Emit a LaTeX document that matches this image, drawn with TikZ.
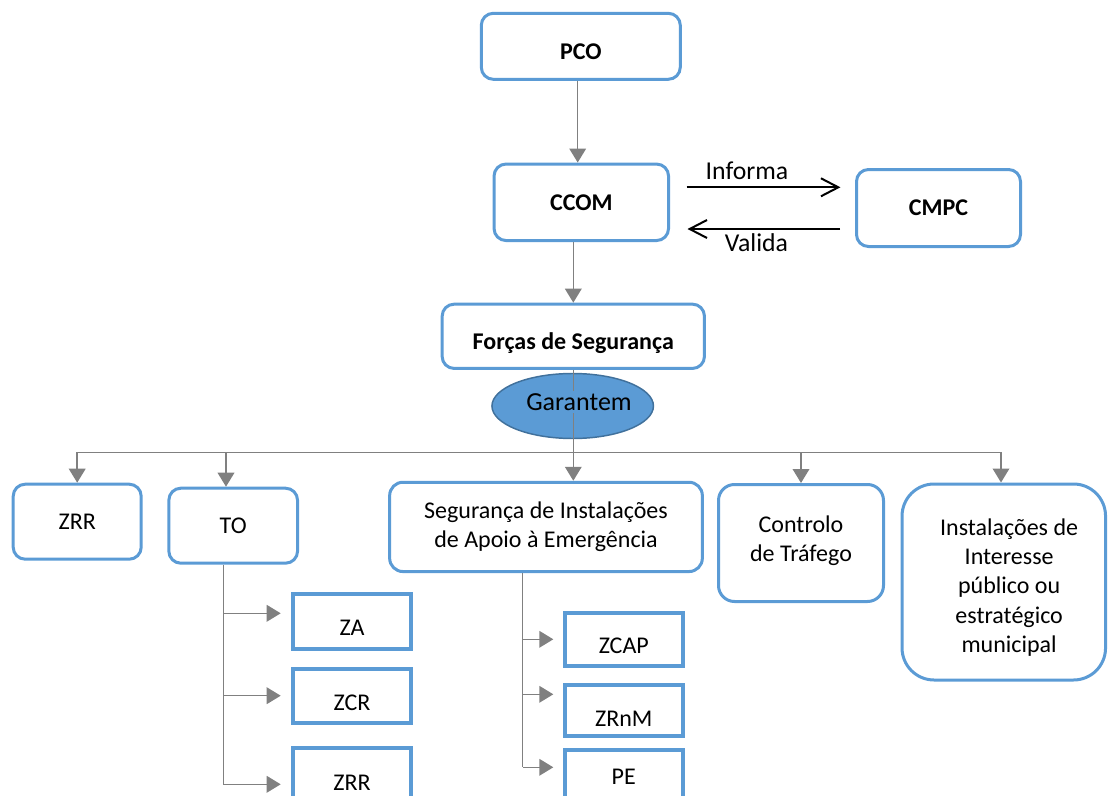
\documentclass[tikz,border=0pt]{standalone}
\usepackage{fontspec}
\setmainfont{Carlito}
\usetikzlibrary{arrows.meta,calc,shapes.geometric}
\definecolor{bblue}{HTML}{5B9BD5}
\definecolor{eborder}{HTML}{41719C}
\definecolor{gcol}{HTML}{808080}
\newcommand\lowtxt[2]{\raisebox{-#1}[\height][\depth]{#2}}
\begin{document}
\begin{tikzpicture}[x=0.75pt,y=-0.75pt,
  wh/.style 2 args={minimum width=#1*0.75pt, minimum height=#2*0.75pt},
  rbox/.style={draw=bblue, line width=2.25pt, rounded corners=9pt, fill=white, inner sep=0pt, align=center, font=\fontsize{18}{22}\selectfont},
  bbox/.style={rbox, font=\fontsize{18}{22}\selectfont\bfseries},
  sbox/.style={draw=bblue, line width=3pt, fill=white, inner sep=0pt, font=\fontsize{18}{22}\selectfont},
  gl/.style={draw=gcol, line width=1.1pt},
  garr/.style={gl, -{Triangle[length=10.5pt,width=12.5pt]}},
  barr/.style={draw=black, line width=1.5pt, -{Straight Barb[length=13pt,width=13.5pt]}},
  lbl/.style={font=\fontsize{19.3}{22}\selectfont, inner sep=0pt},
]
\useasboundingbox (0,0) rectangle (1108,796);
\clip (0,0) rectangle (1108,796);

% top nodes
\node[bbox, wh={199}{66}] (pco) at (580.8,46.3) {\lowtxt{4pt}{PCO}};
\node[bbox, wh={174.5}{76.5}] (ccom) at (581.3,202.3) {CCOM};
\node[bbox, wh={164}{77}] (cmpc) at (938.5,208) {CMPC};
\node[bbox, wh={262.3}{64.3}] (forcas) at (573.3,336.3) {\lowtxt{5pt}{Forças de Segurança}};

% x references
\coordinate (xa) at (577.7,0);
\coordinate (xb) at (573.3,0);
\coordinate (yinf) at (0,187.3);
\coordinate (yval) at (0,229);

\draw[garr] (pco.south -| xa) -- (ccom.north -| xa);
\draw[garr] (ccom.south -| xb) -- (forcas.north -| xb);

\draw[barr, shorten <=12.4pt, shorten >=10.9pt] (ccom.east |- yinf) -- (cmpc.west |- yinf);
\draw[barr, shorten <=11.1pt, shorten >=13.1pt] (cmpc.west |- yval) -- (ccom.east |- yval);
\node[lbl, anchor=base] (inf) at (747,179.3) {Informa};
\node[lbl, anchor=base] (val) at (756.5,251.7) {Valida};

% lower boxes
\node[rbox, wh={128}{75}] (zrr) at (77.2,521.7) {ZRR};
\node[rbox, wh={128.7}{75}] (to) at (233.2,525.7) {TO};
\node[rbox, wh={312.7}{89.3}, rounded corners=10pt] (seg) at (546,526.9) {Segurança de Instalações\\de Apoio à Emergência};
\node[rbox, wh={165}{117}, rounded corners=12pt] (ctrl) at (801,543) {\raisebox{1.5pt}[\height][\depth]{\begin{tabular}{@{}c@{}}Controlo\\de Tráfego\end{tabular}}};
\node[rbox, wh={203.5}{196}, rounded corners=24pt] (inst) at (1003.8,582) {\hspace*{8pt}\lowtxt{4.5pt}{\begin{tabular}{@{}c@{}}Instalações de\\Interesse\\público ou\\estratégico\\municipal\end{tabular}}};

% Garantem ellipse
\node[ellipse, fill=bblue, draw=eborder, line width=1.1pt, wh={161.5}{65}] (gar) at (572.7,406) {};

% bus
\coordinate (b1) at (77.2,452.3);
\coordinate (b2) at (226,452.3);
\coordinate (b4) at (801,452.3);
\coordinate (b5) at (1001,452.3);
\draw[gl] (b1) -- (b5);
\draw[garr] (forcas.south -| xb) -- (seg.north -| xb);
\node[font=\fontsize{19.5}{22}\selectfont, fill=bblue, inner sep=1.5pt] (gart) at (579,402) {Garantem};
\draw[garr] (b1) -- (zrr.north -| b1);
\draw[garr] (b2) -- (to.north -| b2);
\draw[garr] (b4) -- (ctrl.north -| b4);
\draw[garr] (b5) -- (inst.north -| b5);

% TO sub-boxes
\node[sbox, wh={118.6}{54.7}] (za) at (352,621.3) {\lowtxt{5.2pt}{ZA}};
\node[sbox, wh={118.6}{53.7}] (zcr) at (352,696.2) {\lowtxt{5.2pt}{ZCR}};
\node[sbox, wh={118.6}{60}] (zrrb) at (352,778) {\lowtxt{3.4pt}{ZRR}};
\coordinate (t1) at (223.3,613.3);
\coordinate (t2) at (223.3,695.7);
\coordinate (t3) at (223.3,784.3);
\draw[gl] (to.south -| t3) -- (t3);
\draw[garr, shorten >=7.5pt] (t1) -- (t1 -| za.west);
\draw[garr, shorten >=7.5pt] (t2) -- (t2 -| zcr.west);
\draw[garr, shorten >=7.5pt] (t3) -- (t3 -| zrrb.west);

% Seg sub-boxes
\node[sbox, wh={118.3}{53.6}] (zcap) at (623.8,639.5) {\lowtxt{4.9pt}{ZCAP}};
\node[sbox, wh={118.3}{51.6}] (zrnm) at (623.8,710.5) {\lowtxt{6pt}{ZRnM}};
\node[sbox, wh={118.3}{60}] (pe) at (623.8,780.3) {\lowtxt{-3pt}{PE}};
\coordinate (s1) at (522.7,639.3);
\coordinate (s2) at (522.7,694.3);
\coordinate (s3) at (522.7,767.3);
\draw[gl] (seg.south -| s3) -- (s3);
\draw[garr, shorten >=7pt] (s1) -- (s1 -| zcap.west);
\draw[garr, shorten >=7pt] (s2) -- (s2 -| zrnm.west);
\draw[garr, shorten >=7pt] (s3) -- (s3 -| pe.west);
\end{tikzpicture}
\end{document}
